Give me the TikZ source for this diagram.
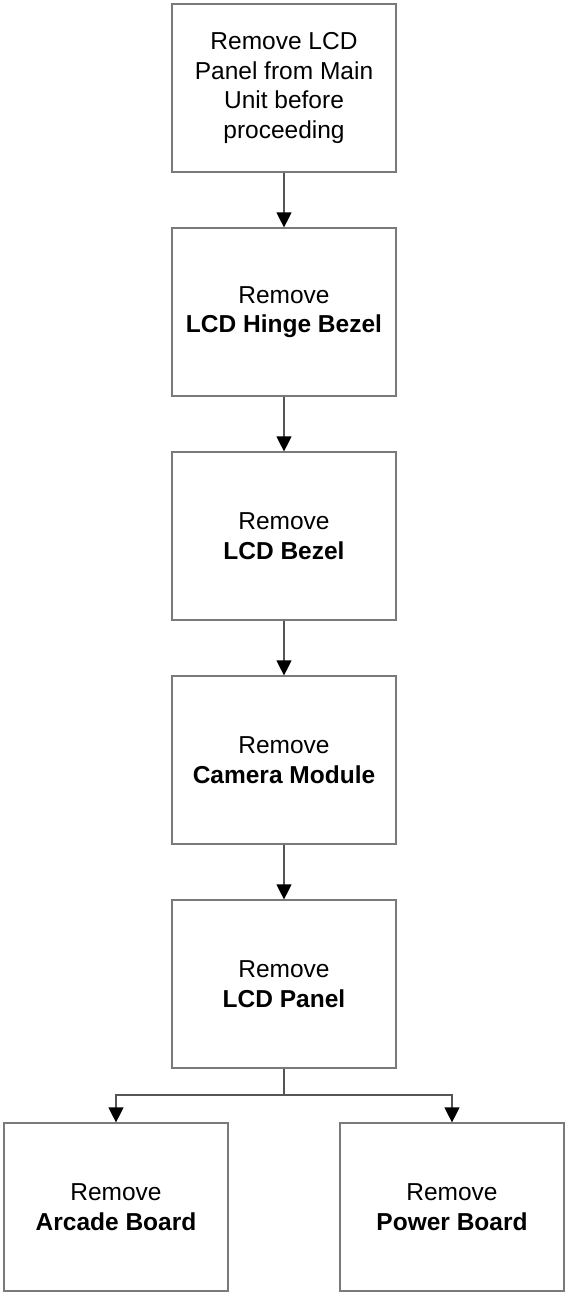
\documentclass[tikz,border=0pt]{standalone}
\usepackage{fontspec}
\setmainfont{Liberation Sans}
\usetikzlibrary{arrows.meta}
\definecolor{boxline}{HTML}{7A7A7A}
\definecolor{conline}{HTML}{555555}
\tikzset{
  stepbox/.style={draw=boxline, line width=1.2pt, fill=white, minimum width=224pt, minimum height=168pt,
    inner sep=0pt, align=center, font=\fontsize{24.5}{29.5}\selectfont},
  arr/.style={draw=conline, line width=1.2pt, -{Triangle[width=15pt,length=15pt,color=black]}},
  plain/.style={draw=conline, line width=1.2pt}
}
\begin{document}
\begin{tikzpicture}[x=1pt,y=-1pt]
\useasboundingbox (0,0) rectangle (565,1293);
\node[stepbox] (b1) at (284,88) {Remove LCD\\Panel from Main\\Unit before\\proceeding};
\node[stepbox] (b2) at (284,312) {Remove\\\textbf{LCD Hinge Bezel}};
\node[stepbox] (b3) at (284,536) {Remove\\\textbf{LCD Bezel}};
\node[stepbox] (b4) at (284,760) {Remove\\\textbf{Camera Module}};
\node[stepbox] (b5) at (284,984) {Remove\\\textbf{LCD Panel}};
\node[stepbox] (a) at (116,1207) {Remove\\\textbf{Arcade Board}};
\node[stepbox] (p) at (452,1207) {Remove\\\textbf{Power Board}};
\coordinate (split) at (284,1095);
\draw[arr] (b1) -- (b2);
\draw[arr] (b2) -- (b3);
\draw[arr] (b3) -- (b4);
\draw[arr] (b4) -- (b5);
\draw[plain] (b5) -- (split);
\draw[arr] (split) -| (a);
\draw[arr] (split) -| (p);
\end{tikzpicture}
\end{document}
